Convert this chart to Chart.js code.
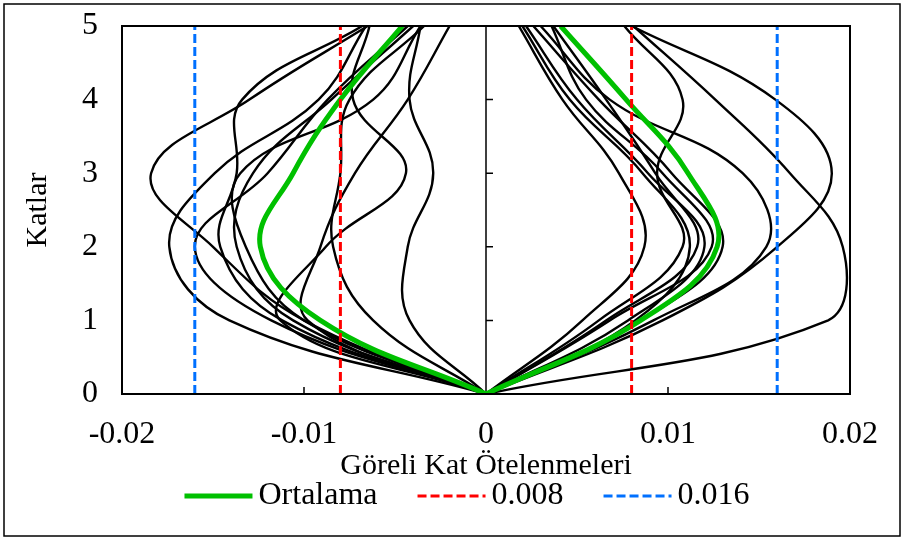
<!DOCTYPE html>
<html>
<head>
<meta charset="utf-8">
<script src="https://cdn.jsdelivr.net/npm/chart.js@4.4.1/dist/chart.umd.min.js"></script>
<style>
  body { margin: 0; background: #fff; }
  #wrap { width: 904px; height: 540px; }
</style>
</head>
<body>
<div id="wrap"><canvas id="myChart"></canvas></div>
<script>
// kat numaralari (y) ve eksen etiketleri
const katlar = [0, 1, 2, 3, 4, 5];
const xTicks = [-0.02, -0.01, 0, 0.01, 0.02];
const yTicks = [0, 1, 2, 3, 4, 5];

// negatif yon - her satir bir kayit, kat 0..5
const solKayitlar = [
  [0, -0.0100, -0.0150, -0.0184, -0.0130, -0.0065],
  [0, -0.0141, -0.0174, -0.0149, -0.0092, -0.0066],
  [0, -0.0118, -0.0160, -0.0120, -0.0087, -0.0043],
  [0, -0.0112, -0.0146, -0.0137, -0.0134, -0.0068],
  [0, -0.0106, -0.0137, -0.0128, -0.0085, -0.0040],
  [0, -0.0100, -0.0132, -0.0135, -0.0062, -0.0036],
  [0, -0.0113, -0.0088, -0.0044, -0.0073, -0.0064],
  [0, -0.0062, -0.0084, -0.0080, -0.0075, -0.0034],
  [0, -0.0042, -0.0043, -0.0029, -0.0042, -0.0036],
  [0, -0.0098, -0.0091, -0.0072, -0.0043, -0.0020]
];

// pozitif yon
const sagKayitlar = [
  [0, 0.0188, 0.0196, 0.0167, 0.0126, 0.0081],
  [0, 0.0097, 0.0160, 0.0190, 0.0159, 0.0080],
  [0, 0.0092, 0.0154, 0.0141, 0.0068, 0.0030],
  [0, 0.0062, 0.0108, 0.0094, 0.0108, 0.0076],
  [0, 0.0053, 0.0087, 0.0073, 0.0042, 0.0018],
  [0, 0.0085, 0.0130, 0.0102, 0.0062, 0.0026],
  [0, 0.0068, 0.0124, 0.0097, 0.0055, 0.0036],
  [0, 0.0078, 0.0120, 0.0089, 0.0050, 0.0022],
  [0, 0.0066, 0.0116, 0.0093, 0.0066, 0.0037],
  [0, 0.0082, 0.0112, 0.0086, 0.0046, 0.0020]
];

const ortalamaSol = [0, -0.0091, -0.0124, -0.0106, -0.0080, -0.0046];
const ortalamaSag = [0, 0.0085, 0.0127, 0.0111, 0.0077, 0.0041];

const sinirlar = [0.008, 0.016];
const sinirRenk = ['#ff0000', '#0070ff'];

const yaziTipi = "'Liberation Serif', 'Times New Roman', serif";

function noktalar(values){
    return values.map(function(v, i){ return {x: v, y: katlar[i]}; });
}

// sol ve sag kolu bir bosluk ile ayir (0 noktasinda sivri uc kalsin)
function ikiKol(sol, sag){
    return noktalar(sol).reverse().concat([{x: 0, y: null}], noktalar(sag));
}

function dikeyCizgi(v){
    return [{x: -v, y: katlar[0]}, {x: -v, y: katlar[katlar.length - 1]}, {x: 0, y: null},
            {x: v, y: katlar[0]}, {x: v, y: katlar[katlar.length - 1]}];
}

let datasets = [];

sinirlar.forEach(function(s, i){
    datasets.push({
        label: String(s),
        data: dikeyCizgi(s),
        borderColor: sinirRenk[i],
        backgroundColor: 'transparent',
        borderWidth: 3,
        borderDash: [9, 4],
        tension: 0
    });
});

datasets.push({
    label: 'Ortalama',
    data: ikiKol(ortalamaSol, ortalamaSag),
    borderColor: '#00c000',
    backgroundColor: 'transparent',
    borderWidth: 5,
    tension: 0.4
});

for (let rec of solKayitlar){
    datasets.push({ label: '', data: noktalar(rec), borderColor: '#000', borderWidth: 2.4, tension: 0.4 });
}
for (let rec of sagKayitlar){
    datasets.push({ label: '', data: noktalar(rec), borderColor: '#000', borderWidth: 2.4, tension: 0.4 });
}

const legendSira = ['Ortalama', '0.008', '0.016'];

const cerceve = {
    id: 'cerceve',
    beforeDatasetsDraw(chart){
        const {ctx, chartArea: a, scales: {x, y}} = chart;
        const x0 = x.getPixelForValue(0);
        ctx.save();
        ctx.strokeStyle = '#000';
        ctx.lineWidth = 1.5;
        ctx.beginPath();
        ctx.moveTo(x0, a.top);
        ctx.lineTo(x0, a.bottom);
        for (let k of yTicks){
            const py = y.getPixelForValue(k);
            ctx.moveTo(x0, py);
            ctx.lineTo(x0 + 7, py);
        }
        for (let v of xTicks){
            const px = x.getPixelForValue(v);
            ctx.moveTo(px, a.bottom);
            ctx.lineTo(px, a.bottom - 7);
        }
        ctx.stroke();
        ctx.restore();
    },
    afterDraw(chart){
        const {ctx, chartArea: a} = chart;
        ctx.save();
        ctx.strokeStyle = '#000';
        ctx.lineWidth = 2;
        ctx.strokeRect(a.left, a.top, a.right - a.left, a.bottom - a.top);
        ctx.lineWidth = 1.5;
        ctx.strokeRect(4, 4, chart.width - 8, chart.height - 8);

        // lejant: sadece etiketli seriler
        const items = chart.data.datasets
            .filter(function(d){ return d.label !== ''; })
            .sort(function(p, q){ return legendSira.indexOf(p.label) - legendSira.indexOf(q.label); });
        const cizgiBoy = 68, araBosluk = 6, ogeBosluk = 40, ly = 496;
        ctx.font = '32px ' + yaziTipi;
        ctx.textBaseline = 'middle';
        ctx.textAlign = 'left';
        let toplam = 0;
        for (let d of items){ toplam += cizgiBoy + araBosluk + ctx.measureText(d.label).width; }
        toplam += ogeBosluk * (items.length - 1);
        let lx = 467 - toplam / 2;
        for (let d of items){
            ctx.beginPath();
            ctx.strokeStyle = d.borderColor;
            ctx.lineWidth = d.borderWidth;
            ctx.setLineDash(d.borderDash || []);
            ctx.moveTo(lx, ly);
            ctx.lineTo(lx + cizgiBoy, ly);
            ctx.stroke();
            ctx.setLineDash([]);
            ctx.fillStyle = '#000';
            ctx.fillText(d.label, lx + cizgiBoy + araBosluk, ly);
            lx += cizgiBoy + araBosluk + ctx.measureText(d.label).width + ogeBosluk;
        }
        ctx.restore();
    }
};

const ctx = document.getElementById('myChart');

new Chart(ctx, {
    type: 'scatter',
    data: { datasets: datasets },
    options: {
        responsive: true,
        maintainAspectRatio: false,
        animation: false,
        showLine: true,
        elements: { point: { radius: 0 } },
        layout: { padding: { top: 26, right: 54, left: 0, bottom: 56 } },
        plugins: {
            tooltip: { enabled: false },
            legend: { display: false }
        },
        scales: {
            x: {
                type: 'linear',
                min: -0.02,
                max: 0.02,
                afterFit: function(scale){ scale.height = 90; },
                afterBuildTicks: function(scale){ scale.ticks = xTicks.map(function(v){ return {value: v}; }); },
                grid: { display: false },
                border: { display: false },
                ticks: {
                    padding: 13,
                    color: '#000',
                    font: { family: yaziTipi, size: 32 },
                    callback: function(v){ return String(+v.toFixed(2)); }
                },
                title: {
                    display: true,
                    text: 'Göreli Kat Ötelenmeleri',
                    color: '#000',
                    padding: 0,
                    font: { family: yaziTipi, size: 30 }
                }
            },
            y: {
                type: 'linear',
                min: 0,
                max: 5,
                afterFit: function(scale){ scale.width = 122; },
                afterBuildTicks: function(scale){ scale.ticks = yTicks.map(function(v){ return {value: v}; }); },
                grid: { display: true, drawOnChartArea: false, drawTicks: true, tickLength: 24, tickColor: 'transparent' },
                border: { display: false },
                ticks: {
                    padding: 0,
                    color: '#000',
                    font: { family: yaziTipi, size: 32 }
                },
                title: {
                    display: true,
                    text: 'Katlar',
                    color: '#000',
                    padding: { top: 20, bottom: 0 },
                    font: { family: yaziTipi, size: 30 }
                }
            }
        }
    },
    plugins: [cerceve]
});
</script>
</body>
</html>
